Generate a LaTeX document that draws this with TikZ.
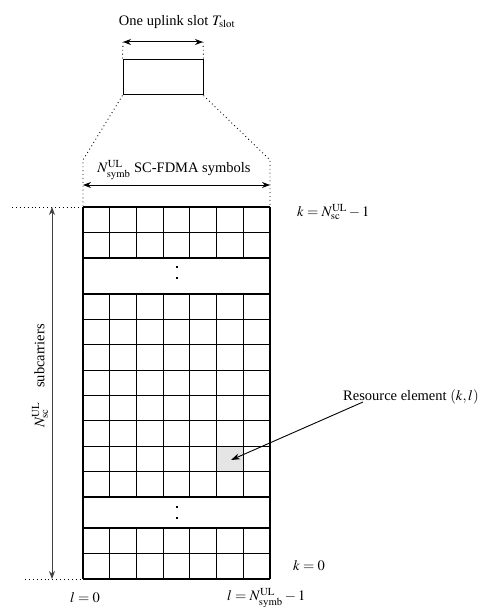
\documentclass[tikz,border=0pt]{standalone}
\usepackage{mathptmx}
\usepackage{fontspec}
\setmainfont{Liberation Serif}
\usetikzlibrary{arrows.meta}
\begin{document}
\begin{tikzpicture}[x=1pt,y=-1pt,
  gridline/.style={line width=1.1pt},
  dimarrow/.style={line width=1pt,{Stealth[length=8pt,width=6pt]}-{Stealth[length=8pt,width=6pt]}},
  ptrarrow/.style={line width=0.9pt,-{Stealth[length=9pt,width=6pt]}},
  dotline/.style={line width=0.9pt,dash pattern=on 0.9pt off 3pt},
  lbl/.style={font=\fontsize{14.5}{16}\selectfont, inner sep=0pt},
  gapdot/.style={fill=black, minimum size=2pt, inner sep=0pt, draw=none}]
\useasboundingbox (0,0) rectangle (489,607);

% ---- top slot box ----
\node[draw, line width=1pt, minimum width=80pt, minimum height=35pt, inner sep=0pt] (slot) at (163,77.5) {};
\node[lbl] (slotlbl) at (177,22) {One uplink slot $T_{\mathrm{slot}}$};
\coordinate (sa) at (123,42);
\coordinate (sb) at (203,42);
\draw[dimarrow] (sa) -- (sb);
\draw[dotline] (sa) -- (slot.north west);
\draw[dotline] (sb) -- (slot.north east);

% ---- symbol width annotation ----
\coordinate (gl) at (83,160);
\coordinate (gr) at (270,160);
\coordinate (al) at (83,185);
\coordinate (ar) at (270,185);
\draw[dotline] (slot.south west) -- (gl) -- (83,207);
\draw[dotline] (slot.south east) -- (gr) -- (270,207);
\draw[dimarrow] (al) -- (ar);
\node[lbl] (symlbl) at (174,170) {$N_{\mathrm{symb}}^{\mathrm{UL}}$ SC-FDMA symbols};

% ---- grey resource element ----
\fill[gray!20] (216.43,446.25) rectangle (243.14,471.625);
\coordinate (re) at (231,460);

% ---- grid ----
\begin{scope}[gridline]
  % outer verticals
  \draw (83,207) -- (83,579);
  \draw (270,207) -- (270,579);
  % top block
  \foreach \yy in {207,232.5,258} \draw (83,\yy) -- (270,\yy);
  \foreach \i in {1,...,6} \draw ({83+\i*26.714},207) -- ({83+\i*26.714},258);
  % middle block
  \foreach \i in {0,...,8} \draw (83,{294+\i*25.375}) -- (270,{294+\i*25.375});
  \foreach \i in {1,...,6} \draw ({83+\i*26.714},294) -- ({83+\i*26.714},497);
  % bottom block
  \foreach \yy in {528,553.5,579} \draw (83,\yy) -- (270,\yy);
  \foreach \i in {1,...,6} \draw ({83+\i*26.714},528) -- ({83+\i*26.714},579);
\end{scope}

% gap dots
\node[gapdot] (d1) at (177,267) {};
\node[gapdot] (d2) at (177,278) {};
\node[gapdot] (d3) at (177,507) {};
\node[gapdot] (d4) at (177,518) {};

% ---- subcarrier annotation ----
\draw[dotline] (12,207) -- (83,207);
\draw[dotline] (25,579) -- (83,579);
\coordinate (vt) at (52,207);
\coordinate (vb) at (52,579);
\draw[dimarrow, black!75] (vt) -- (vb);
\node[lbl, rotate=90] (sclbl) at (40,376) {$N_{\mathrm{sc}}^{\mathrm{UL}}$\quad subcarriers};

% ---- index labels ----
\node[lbl, anchor=west] (ktop) at (297,212) {$k=N_{\mathrm{sc}}^{\mathrm{UL}}-1$};
\node[lbl, anchor=west] (kbot) at (293,566) {$k=0$};
\node[lbl] (l0) at (85,598) {$l=0$};
\node[lbl, anchor=west] (lend) at (227,598) {$l=N_{\mathrm{symb}}^{\mathrm{UL}}-1$};

% ---- resource element pointer ----
\node[lbl, anchor=west] (relbl) at (343,397) {Resource element $(k,l)$};
\draw[ptrarrow] (363,402) -- (re);
\end{tikzpicture}
\end{document}
